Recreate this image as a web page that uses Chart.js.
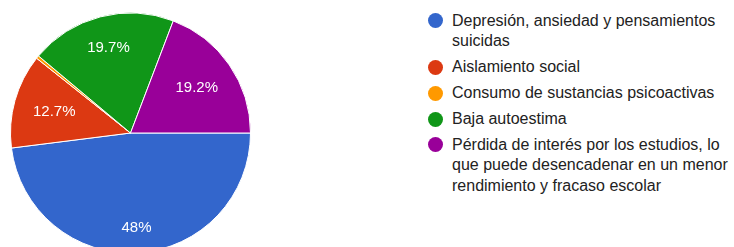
<!DOCTYPE html>
<html>
<head>
<meta charset="utf-8">
<script src="https://cdn.jsdelivr.net/npm/chart.js@4"></script>
<style>
  html, body { margin: 0; padding: 0; width: 734px; height: 247px; overflow: hidden; background: #fff; }
  #wrap { position: absolute; left: 0; top: 0; width: 261px; height: 266px; }
  #legend { position: absolute; left: 427px; top: 10.6px; font-family: "Liberation Sans", Arial, sans-serif; font-size: 16px; line-height: 20.8px; color: #222; }
  .item { position: relative; padding-left: 25px; margin-bottom: 5px; width: 290px; }
  .dot { position: absolute; left: 0.5px; top: 2.8px; width: 15px; height: 15px; border-radius: 50%; }
</style>
</head>
<body>
<div id="wrap"><canvas id="c"></canvas></div>
<div id="legend"></div>
<script>
const categories = [
  "Depresión, ansiedad y pensamientos suicidas",
  "Aislamiento social",
  "Consumo de sustancias psicoactivas",
  "Baja autoestima",
  "Pérdida de interés por los estudios, lo que puede desencadenar en un menor rendimiento y fracaso escolar"
];
const values = [48, 12.7, 0.4, 19.7, 19.2];
const sliceLabels = ["48%", "12.7%", "", "19.7%", "19.2%"];
const colors = ["#3366cc", "#dc3912", "#ff9900", "#109618", "#990099"];
const labelRadius = [0.79, 0.66, 0, 0.73, 0.67];

const legendBreaks = [
  ["Depresión, ansiedad y pensamientos", "suicidas"],
  ["Aislamiento social"],
  ["Consumo de sustancias psicoactivas"],
  ["Baja autoestima"],
  ["Pérdida de interés por los estudios, lo", "que puede desencadenar en un menor", "rendimiento y fracaso escolar"]
];

const legend = document.getElementById('legend');
categories.forEach((c, i) => {
  const d = document.createElement('div');
  d.className = 'item';
  const dot = document.createElement('span');
  dot.className = 'dot';
  dot.style.background = colors[i];
  d.appendChild(dot);
  legendBreaks[i].forEach((line, j) => {
    if (j > 0) d.appendChild(document.createElement('br'));
    d.appendChild(document.createTextNode(line));
  });
  legend.appendChild(d);
});

const labelPlugin = {
  id: 'sliceLabels',
  afterDatasetsDraw(chart) {
    const ctx = chart.ctx;
    const meta = chart.getDatasetMeta(0);
    ctx.save();
    ctx.fillStyle = '#ffffff';
    ctx.font = '15px "Liberation Sans", Arial, sans-serif';
    ctx.textAlign = 'center';
    ctx.textBaseline = 'middle';
    meta.data.forEach((arc, i) => {
      if (!sliceLabels[i]) return;
      const p = arc.getProps(['x', 'y', 'startAngle', 'endAngle', 'outerRadius'], true);
      const mid = (p.startAngle + p.endAngle) / 2;
      const r = p.outerRadius * labelRadius[i];
      ctx.fillText(sliceLabels[i], p.x + Math.cos(mid) * r, p.y + Math.sin(mid) * r);
    });
    ctx.restore();
  }
};

new Chart(document.getElementById('c'), {
  type: 'pie',
  data: {
    labels: categories,
    datasets: [{
      data: values,
      backgroundColor: colors,
      borderColor: '#ffffff',
      borderWidth: 1
    }]
  },
  options: {
    responsive: true,
    maintainAspectRatio: false,
    animation: false,
    rotation: 90,
    layout: { padding: 10 },
    plugins: { legend: { display: false }, tooltip: { enabled: false } }
  },
  plugins: [labelPlugin]
});
</script>
</body>
</html>
